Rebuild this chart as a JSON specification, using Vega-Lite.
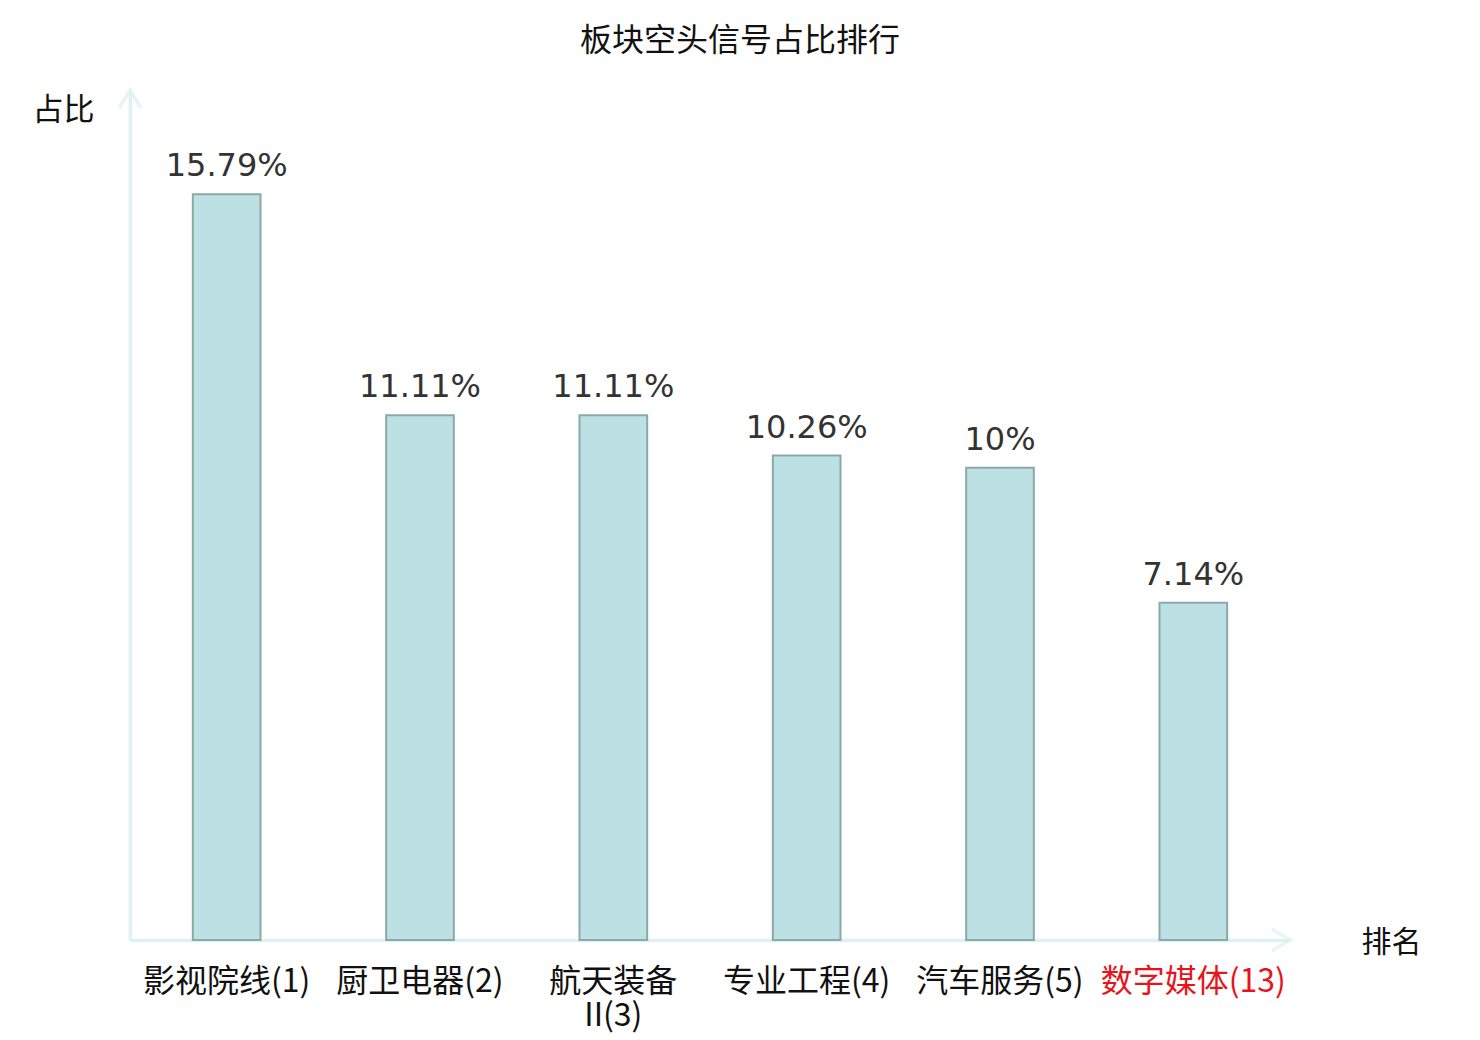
{
  "$schema": "https://vega.github.io/schema/vega-lite/v6.json",
  "width": 1160,
  "height": 850,
  "autosize": {"type": "none"},
  "padding": {"left": 130, "top": 90, "right": 190, "bottom": 100},
  "background": "white",
  "title": {
    "text": "板块空头信号占比排行",
    "font": "Noto Sans CJK SC",
    "fontSize": 32,
    "fontWeight": "normal",
    "color": "#111111",
    "anchor": "middle",
    "dx": 30,
    "offset": 25
  },
  "config": {"view": {"stroke": null}},
  "layer": [
    {
      "data": {
        "values": [
          {"sector": "影视院线(1)", "pct": 15.79},
          {"sector": "厨卫电器(2)", "pct": 11.11},
          {"sector": "航天装备II(3)", "pct": 11.11},
          {"sector": "专业工程(4)", "pct": 10.26},
          {"sector": "汽车服务(5)", "pct": 10},
          {"sector": "数字媒体(13)", "pct": 7.14}
        ]
      },
      "layer": [
        {
          "mark": {"type": "bar", "fill": "#bce0e3", "stroke": "#8aaaa9", "strokeWidth": 2},
          "encoding": {
            "x": {
              "field": "sector",
              "type": "nominal",
              "sort": null,
              "scale": {"paddingInner": 0.65, "paddingOuter": 0.325},
              "axis": {
                "title": "排名",
                "titleFont": "Noto Sans CJK SC",
                "titleFontSize": 30,
                "titleFontWeight": "normal",
                "titleColor": "#111111",
                "titleX": 1261,
                "titleY": 2,
                "titleAlign": "center",
                "titleBaseline": "middle",
                "labelAngle": 0,
                "labelFont": "Noto Sans CJK SC",
                "labelFontSize": 32,
                "labelLimit": 400,
                "labelOverlap": false,
                "labelColor": {"condition": {"test": "datum.label == '数字媒体(13)'", "value": "#e8141c"}, "value": "#111111"},
                "labelPadding": 26,
                "labelLineHeight": 34,
                "labelExpr": "datum.label == '航天装备II(3)' ? ['航天装备', 'II(3)'] : datum.label",
                "ticks": false,
                "domainColor": "#def2ef",
                "domainWidth": 3.5
              }
            },
            "y": {
              "field": "pct",
              "type": "quantitative",
              "scale": {"domain": [0, 18], "nice": false},
              "axis": {
                "title": "占比",
                "titleFont": "Noto Sans CJK SC",
                "titleFontSize": 31,
                "titleFontWeight": "normal",
                "titleColor": "#111111",
                "titleAngle": 0,
                "titleX": -67,
                "titleY": 20,
                "titleAlign": "center",
                "titleBaseline": "middle",
                "labels": false,
                "ticks": false,
                "grid": false,
                "domainColor": "#def2ef",
                "domainWidth": 3.5
              }
            }
          }
        },
        {
          "mark": {
            "type": "text",
            "font": "DejaVu Sans",
            "fontSize": 32,
            "color": "#333333",
            "baseline": "alphabetic",
            "dy": -18,
            "text": {"expr": "datum.pct + '%'"}
          },
          "encoding": {
            "x": {"field": "sector", "type": "nominal", "sort": null},
            "y": {"field": "pct", "type": "quantitative"}
          }
        }
      ]
    },
    {
      "data": {"values": [{"axis": "y"}]},
      "mark": {
        "type": "point",
        "shape": "M -0.9 1.5 L 0 0 L 0.9 1.5",
        "filled": false,
        "stroke": "#def2ef",
        "strokeWidth": 3.5,
        "size": 576
      },
      "encoding": {
        "x": {"value": 0},
        "y": {"datum": 18, "type": "quantitative"}
      }
    },
    {
      "data": {"values": [{"axis": "x"}]},
      "mark": {
        "type": "point",
        "shape": "M -1.5 -0.9 L 0 0 L -1.5 0.9",
        "filled": false,
        "stroke": "#def2ef",
        "strokeWidth": 3.5,
        "size": 576
      },
      "encoding": {
        "x": {"value": "width"},
        "y": {"value": "height"}
      }
    }
  ]
}
